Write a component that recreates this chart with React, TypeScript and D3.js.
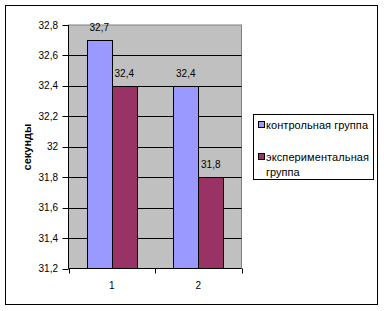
import React from "react";
import * as d3 from "d3";

const categories = ["1", "2"];
const seriesNames = ["контрольная группа", "экспериментальная группа"];
const controlValues = [32.7, 32.4];
const experimentValues = [32.4, 31.8];
const yTicks = [31.2, 31.4, 31.6, 31.8, 32, 32.2, 32.4, 32.6, 32.8];
const colors = ["#9999FF", "#993366"];

export default function App() {
  const W = 384, H = 311;
  const left = 68.5, right = 241.5, top = 25, bottom = 268.5;
  const y = d3.scaleLinear().domain([31.2, 32.8]).range([bottom, top]);
  const x = d3.scaleBand().domain(categories).range([left, right]);
  const inner = d3.scaleBand().domain(["0", "1"]).range([0, 50]);
  const series = [controlValues, experimentValues];
  const fmt = (v: number) => String(v).replace(".", ",");
  const font = "'Liberation Sans', Arial, sans-serif";
  const expParts = seriesNames[1].split(" ");
  return (
    <svg width={W} height={H} style={{ position: "absolute", left: 0, top: 0 }} fontFamily={font}>
      <rect x={0} y={0} width={W} height={H} fill="#fff" />
      <rect x={5.5} y={5.5} width={372} height={299} fill="#fff" stroke="#000" strokeWidth={1} />
      <rect x={left} y={top} width={right - left} height={bottom - top} fill="#C0C0C0" stroke="#808080" strokeWidth={1} />
      {yTicks.map((t) => (
        <g key={t}>
          {t !== 31.2 && t !== 32.8 && (
            <line x1={left} x2={right} y1={Math.round(y(t)) + 0.5} y2={Math.round(y(t)) + 0.5} stroke="#000" />
          )}
          <line x1={left - 6} x2={left} y1={Math.round(y(t)) + 0.5} y2={Math.round(y(t)) + 0.5} stroke="#000" />
          <text x={58} y={y(t) + 3.5} fontSize={10} textAnchor="end">{fmt(t)}</text>
        </g>
      ))}
      {categories.map((c, ci) =>
        series.map((vals, si) => {
          const bx = (x(c) as number) + x.bandwidth() / 2 - 25 + (inner(String(si)) as number);
          const by = y(vals[ci]);
          return (
            <g key={c + si}>
              <rect x={Math.round(bx) + 0.5} y={Math.round(by) + 0.5} width={25} height={bottom - Math.round(by) - 0.5} fill={colors[si]} stroke="#000" />
              <text x={bx + 12.5} y={by - 9} fontSize={10} textAnchor="middle">{fmt(vals[ci])}</text>
            </g>
          );
        })
      )}
      <line x1={left} x2={left} y1={top} y2={bottom} stroke="#000" />
      <line x1={left} x2={right} y1={bottom} y2={bottom} stroke="#000" />
      {[left, left + x.step(), right].map((tx, i) => (
        <line key={i} x1={Math.round(tx) + 0.5} x2={Math.round(tx) + 0.5} y1={bottom} y2={bottom + 5} stroke="#000" />
      ))}
      {categories.map((c) => (
        <text key={c} x={(x(c) as number) + x.bandwidth() / 2} y={289} fontSize={10} textAnchor="middle">{c}</text>
      ))}
      <text transform="translate(31,147) rotate(-90)" fontSize={11} fontWeight="bold" textAnchor="middle">секунды</text>
      <rect x={253.5} y={114.5} width={120} height={65} fill="#fff" stroke="#000" />
      <rect x={258.5} y={121.5} width={6} height={6} fill={colors[0]} stroke="#000" />
      <text x={266} y={128.5} fontSize={11} textLength={102} lengthAdjust="spacing">{seriesNames[0]}</text>
      <rect x={258.5} y={153.5} width={6} height={6} fill={colors[1]} stroke="#000" />
      <text x={266} y={160.5} fontSize={11} textLength={103} lengthAdjust="spacing">{expParts[0]}</text>
      <text x={266} y={175.5} fontSize={11}>{expParts[1]}</text>
    </svg>
  );
}
